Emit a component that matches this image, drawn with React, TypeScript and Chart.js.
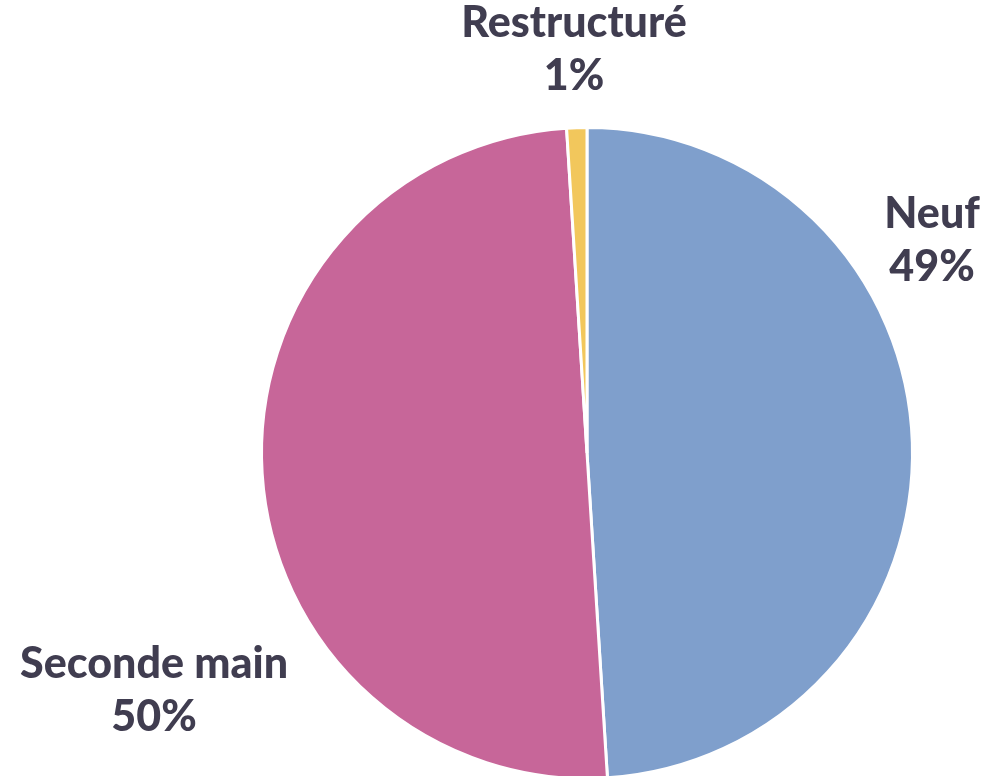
import React, { useEffect, useRef } from "react";
import { Chart, registerables } from "chart.js";

Chart.register(...registerables);

const categories = ["Neuf", "Seconde main", "Restructuré"];
const values = [49, 50, 1];
const colors = ["#7F9FCC", "#C76699", "#F2C75C"];
// label anchor offsets, in units of pie radius from the centre
const labelOffsets: [number, number][] = [
  [1.06, -0.655],
  [-1.33, 0.73],
  [-0.04, -1.24],
];

const labelPlugin = {
  id: "pieLabels",
  afterDatasetsDraw(chart: any) {
    const meta = chart.getDatasetMeta(0);
    const arc0 = meta.data[0];
    if (!arc0) return;
    const cx = arc0.x;
    const cy = arc0.y;
    const r = arc0.outerRadius;
    const ctx = chart.ctx;
    ctx.save();
    ctx.fillStyle = "#403D50";
    ctx.font = "900 43px Lato, 'Open Sans', sans-serif";
    ctx.textAlign = "center";
    ctx.textBaseline = "middle";
    categories.forEach((c, i) => {
      const [ox, oy] = labelOffsets[i];
      const x = cx + ox * r;
      const y = cy + oy * r;
      ctx.fillText(c, x, y - 26);
      ctx.fillText(values[i] + "%", x, y + 27);
    });
    ctx.restore();
  },
};

export default function App() {
  const ref = useRef<HTMLCanvasElement>(null);
  useEffect(() => {
    document.body.style.margin = "0";
    document.body.style.overflow = "hidden";
    const chart = new Chart(ref.current!, {
      type: "pie",
      data: {
        labels: categories,
        datasets: [
          {
            data: values,
            backgroundColor: colors,
            borderColor: "#FFFFFF",
            borderWidth: 3,
          },
        ],
      },
      options: {
        responsive: false,
        animation: false,
        layout: { padding: { top: 126, bottom: 20, left: 187, right: 0 } },
        plugins: { legend: { display: false }, tooltip: { enabled: false } },
      },
      plugins: [labelPlugin],
    });
    return () => chart.destroy();
  }, []);
  return <canvas ref={ref} width={987} height={800} style={{ display: "block" }} />;
}
